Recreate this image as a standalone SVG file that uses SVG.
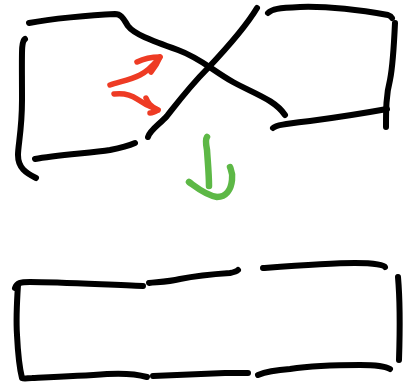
<svg xmlns="http://www.w3.org/2000/svg" width="409" height="384" viewBox="0 0 409 384">
<style>
.k{fill:none;stroke:#000;stroke-width:6;stroke-linecap:round;stroke-linejoin:round}
.r{fill:none;stroke:#ee3b24;stroke-width:5.5;stroke-linecap:round;stroke-linejoin:round}
.g{fill:none;stroke:#5db846;stroke-width:6.5;stroke-linecap:round;stroke-linejoin:round}
</style>
<rect width="409" height="384" fill="#fff"/>
<g id="twisted-shape">
<path class="k" d="M29,23 C50,19 90,15 115,14 C122,14 124,20 128,26 C134,34 150,40 178,50 C200,58 212,70 233,82 C255,94 275,100 285,115"/>
<path class="k" d="M25,39 C21,42 22,50 22,100 C22,130 18,145 18,155 C18,168 26,173 36,178"/>
<path class="k" d="M35,159 C55,155 90,153 110,150 C120,148 128,146 135,143"/>
<path class="k" d="M148,137 C150,130 160,124 167,116 C178,102 190,86 208,68 C225,50 245,28 257,8"/>
<path class="k" d="M268,13 C272,9 278,8 300,7 C330,6 365,11 388,15 C391,16 392,18 392,18"/>
<path class="k" d="M395,23 C394,45 393,65 390,80 C386,95 386,110 386,127"/>
<path class="k" d="M273,128 C276,125 285,124 310,121 C340,117 365,113 387,109"/>
</g>
<g id="red-arrows">
<path class="r" d="M110,85 C118,82 130,80 140,75 C150,70 155,63 160,57"/>
<path class="r" d="M137,62 C143,59 152,57 160,57 C158,62 155,67 151,72"/>
<path class="r" d="M114,94 C122,93 130,94 137,99 C144,104 150,107 158,110"/>
<path class="r" d="M146,98 C148,103 150,106 158,110 C155,112 152,113 150,113"/>
</g>
<g id="green-arrow">
<path class="g" d="M207,137 C205,140 206,145 207,150 C208,165 209,175 209,186"/>
<path class="g" d="M189,182 C196,187 205,195 217,197 C226,197 231,190 232,180 C233,173 231,170 230,167"/>
</g>
<g id="rectangle">
<path class="k" d="M15,288 C17,283 20,282 30,282 C60,282 110,285 143,286"/>
<path class="k" d="M149,283 C158,282 168,282 180,279 C195,276 215,274 230,273 C235,272 237,271 238,270"/>
<path class="k" d="M263,268 C290,266 330,263 355,263 C375,263 384,265 385,267"/>
<path class="k" d="M398,277 C400,300 400,330 399,360"/>
<path class="k" d="M18,285 C17,300 16,320 17,335 C18,355 20,370 22,378 C24,379 28,378 32,378 C55,377 80,376 107,374 C125,373 140,375 147,377"/>
<path class="k" d="M153,376 C175,375 200,374 225,373 C240,373 246,373 248,373"/>
<path class="k" d="M258,375 C265,372 275,370 290,369 C310,366 335,365 360,365 C375,365 385,366 390,369"/>
</g>
</svg>
